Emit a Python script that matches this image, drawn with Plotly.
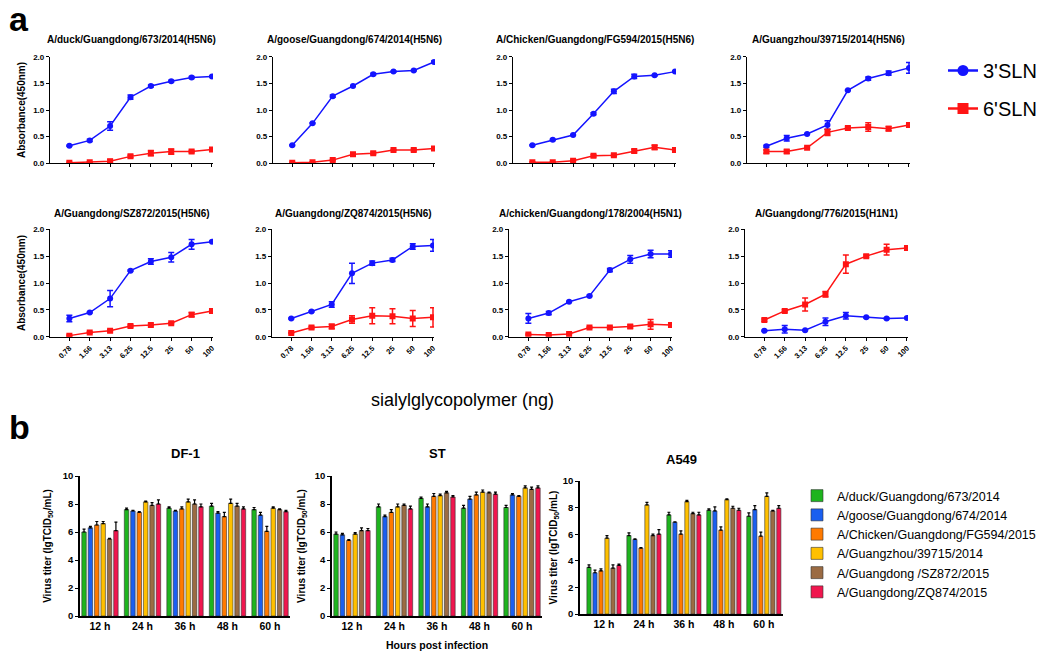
import plotly.graph_objects as go

W, H = 1048, 652
FONT = "Arial, Liberation Sans, sans-serif"

# ---------------- Panel a data ----------------
conc_labels = ["0.78", "1.56", "3.13", "6.25", "12.5", "25", "50", "100"]
strains_a = [
    "A/duck/Guangdong/673/2014(H5N6)",
    "A/goose/Guangdong/674/2014(H5N6)",
    "A/Chicken/Guangdong/FG594/2015(H5N6)",
    "A/Guangzhou/39715/2014(H5N6)",
    "A/Guangdong/SZ872/2015(H5N6)",
    "A/Guangdong/ZQ874/2015(H5N6)",
    "A/chicken/Guangdong/178/2004(H5N1)",
    "A/Guangdong/776/2015(H1N1)",
]
sln3_mean = [
    [0.33, 0.43, 0.70, 1.24, 1.45, 1.54, 1.61, 1.63],
    [0.34, 0.75, 1.26, 1.45, 1.67, 1.72, 1.74, 1.90],
    [0.34, 0.44, 0.53, 0.93, 1.35, 1.63, 1.65, 1.72],
    [0.32, 0.47, 0.55, 0.72, 1.37, 1.59, 1.69, 1.79],
    [0.34, 0.45, 0.71, 1.23, 1.40, 1.48, 1.72, 1.77],
    [0.34, 0.47, 0.60, 1.18, 1.37, 1.43, 1.68, 1.70],
    [0.34, 0.44, 0.65, 0.76, 1.24, 1.44, 1.54, 1.54],
    [0.11, 0.14, 0.12, 0.28, 0.39, 0.36, 0.34, 0.35],
]
sln3_err = [
    [0.01, 0.02, 0.08, 0.04, 0.02, 0.02, 0.02, 0.01],
    [0.01, 0.01, 0.02, 0.01, 0.02, 0.01, 0.01, 0.02],
    [0.01, 0.01, 0.01, 0.02, 0.04, 0.04, 0.01, 0.01],
    [0.02, 0.05, 0.01, 0.08, 0.01, 0.03, 0.04, 0.10],
    [0.06, 0.01, 0.15, 0.01, 0.05, 0.09, 0.09, 0.01],
    [0.01, 0.01, 0.05, 0.19, 0.04, 0.03, 0.05, 0.11],
    [0.09, 0.03, 0.01, 0.01, 0.03, 0.07, 0.07, 0.06],
    [0.01, 0.07, 0.01, 0.07, 0.06, 0.01, 0.01, 0.01],
]
sln6_mean = [
    [0.01, 0.02, 0.04, 0.13, 0.19, 0.22, 0.22, 0.26],
    [0.01, 0.02, 0.06, 0.17, 0.19, 0.25, 0.25, 0.28],
    [0.02, 0.02, 0.05, 0.14, 0.15, 0.23, 0.30, 0.25],
    [0.22, 0.22, 0.29, 0.58, 0.66, 0.68, 0.65, 0.72],
    [0.02, 0.08, 0.11, 0.20, 0.22, 0.25, 0.41, 0.48],
    [0.07, 0.17, 0.19, 0.32, 0.39, 0.38, 0.34, 0.36],
    [0.04, 0.03, 0.05, 0.17, 0.17, 0.19, 0.23, 0.22],
    [0.31, 0.48, 0.60, 0.79, 1.35, 1.50, 1.62, 1.65],
]
sln6_err = [
    [0.01, 0.01, 0.03, 0.02, 0.05, 0.05, 0.02, 0.02],
    [0.01, 0.01, 0.01, 0.02, 0.02, 0.01, 0.02, 0.02],
    [0.01, 0.01, 0.01, 0.02, 0.02, 0.03, 0.04, 0.02],
    [0.03, 0.03, 0.01, 0.06, 0.02, 0.08, 0.04, 0.04],
    [0.01, 0.01, 0.02, 0.02, 0.01, 0.01, 0.04, 0.01],
    [0.01, 0.02, 0.04, 0.07, 0.15, 0.14, 0.15, 0.18],
    [0.01, 0.01, 0.01, 0.01, 0.01, 0.03, 0.09, 0.01],
    [0.02, 0.02, 0.12, 0.05, 0.17, 0.02, 0.10, 0.03],
]
abs_ticks = [0.0, 0.5, 1.0, 1.5, 2.0]

# ---------------- Panel b data ----------------
hours = ["12 h", "24 h", "36 h", "48 h", "60 h"]
cells = ["DF-1", "ST", "A549"]
viruses = [
    "A/duck/Guangdong/673/2014",
    "A/goose/Guangdong/674/2014",
    "A/Chicken/Guangdong/FG594/2015",
    "A/Guangzhou/39715/2014",
    "A/Guangdong /SZ872/2015",
    "A/Guangdong/ZQ874/2015",
]
df1_titer = [
    [6.00, 7.60, 7.70, 7.85, 7.60],
    [6.30, 7.50, 7.50, 7.35, 7.20],
    [6.50, 7.40, 7.65, 7.10, 6.05],
    [6.60, 8.15, 8.15, 8.05, 7.70],
    [5.50, 7.90, 8.00, 7.85, 7.60],
    [6.10, 8.00, 7.80, 7.65, 7.45],
]
df1_err = [
    [0.20, 0.10, 0.10, 0.20, 0.15],
    [0.10, 0.05, 0.05, 0.10, 0.20],
    [0.25, 0.05, 0.15, 0.30, 0.35],
    [0.15, 0.05, 0.20, 0.30, 0.10],
    [0.05, 0.20, 0.30, 0.20, 0.05],
    [0.60, 0.30, 0.20, 0.15, 0.10],
]
st_titer = [
    [5.85, 7.80, 8.40, 7.70, 7.75],
    [5.80, 7.10, 7.80, 8.35, 8.65],
    [5.40, 7.40, 8.55, 8.65, 8.55],
    [5.85, 7.80, 8.60, 8.85, 9.15],
    [6.10, 7.90, 8.80, 8.80, 9.05],
    [6.10, 7.65, 8.50, 8.70, 9.15],
]
st_err = [
    [0.15, 0.20, 0.10, 0.20, 0.15],
    [0.10, 0.10, 0.20, 0.20, 0.10],
    [0.05, 0.20, 0.20, 0.20, 0.05],
    [0.10, 0.20, 0.10, 0.15, 0.15],
    [0.20, 0.10, 0.10, 0.05, 0.15],
    [0.15, 0.20, 0.10, 0.15, 0.15],
]
a549_titer = [
    [3.50, 5.90, 7.45, 7.80, 7.35],
    [3.10, 5.60, 6.90, 7.75, 7.85],
    [3.25, 4.95, 6.00, 6.30, 5.85],
    [5.70, 8.20, 8.45, 8.60, 8.85],
    [3.45, 5.90, 7.55, 7.95, 7.75],
    [3.65, 6.00, 7.45, 7.80, 7.95],
]
a549_err = [
    [0.20, 0.20, 0.20, 0.10, 0.25],
    [0.20, 0.05, 0.02, 0.30, 0.30],
    [0.15, 0.05, 0.25, 0.25, 0.30],
    [0.20, 0.20, 0.10, 0.05, 0.25],
    [0.25, 0.10, 0.10, 0.15, 0.05],
    [0.10, 0.35, 0.20, 0.15, 0.20],
]
titer_ticks = [0, 2, 4, 6, 8, 10]

# ---------------- styles / layout positions (pixels) ----------------
C3, C6 = "#1414FF", "#FF1414"
bar_colors = ["#1EB41E", "#1A5FF0", "#FF7A00", "#FFC000", "#9B6B43", "#F0164E"]

a_xdom = [(50, 213), (273, 435), (513, 676), (747, 910),
          (50, 213), (272, 434), (509, 672), (745, 908)]
a_ydom = [(163.3, 56.7)] * 4 + [(336.7, 229.3)] * 4
b_xdom = [(80, 290), (332, 542), (580, 783)]
b_ydom = [(616, 476), (616, 476), (614, 481)]
b_xrange = [(-0.47, 4.47), (-0.47, 4.47), (-0.6, 4.48)]
b_title_standoff = [9, 7, 3]


def xd(a, b):
    return [a / W, b / W]


def yd(bottom, top):
    return [1 - bottom / H, 1 - top / H]


def label(text, px, py, size, **kw):
    return dict(text=text, x=px / W, y=1 - py / H, xref="paper", yref="paper",
                xanchor="center", yanchor="middle", showarrow=False,
                font=dict(size=size, family=FONT, color="black"), **kw)


fig = go.Figure()
layout = dict(
    template="none",
    width=W, height=H, margin=dict(l=0, r=0, t=0, b=0, pad=0, autoexpand=False),
    paper_bgcolor="white", plot_bgcolor="white",
    font=dict(family=FONT, color="black"),
    barmode="group", bargap=0.1, bargroupgap=0.3,
)
annotations = []

# Panel a
for i in range(8):
    n = i + 1
    xa = "x" if n == 1 else f"x{n}"
    ya = "y" if n == 1 else f"y{n}"
    fig.add_trace(go.Scatter(
        x=conc_labels, y=sln3_mean[i], mode="lines+markers", xaxis=xa, yaxis=ya,
        line=dict(color=C3, width=1.5), marker=dict(symbol="circle", size=6, color=C3),
        error_y=dict(type="data", array=sln3_err[i], color=C3, thickness=1.5, width=3),
        showlegend=False, name="3'SLN"))
    fig.add_trace(go.Scatter(
        x=conc_labels, y=sln6_mean[i], mode="lines+markers", xaxis=xa, yaxis=ya,
        line=dict(color=C6, width=1.5), marker=dict(symbol="square", size=6, color=C6),
        error_y=dict(type="data", array=sln6_err[i], color=C6, thickness=1.5, width=3),
        showlegend=False, name="6'SLN"))
    row2 = i >= 4
    layout["xaxis" if n == 1 else f"xaxis{n}"] = dict(
        domain=xd(*a_xdom[i]), anchor=ya, type="category", automargin=False,
        range=[-0.95, 7.05], showline=True, linecolor="black", linewidth=1.3,
        ticks="outside", ticklen=3, tickwidth=1.2, tickcolor="black",
        showgrid=False, zeroline=False, showticklabels=row2, tickangle=-45,
        tickfont=dict(size=7.5, weight="bold", family=FONT))
    yax = dict(
        domain=yd(*a_ydom[i]), anchor=xa, range=[0, 2], automargin=False,
        tickvals=abs_ticks, tickformat=".1f",
        showline=True, linecolor="black", linewidth=1.3,
        ticks="outside", ticklen=3, tickwidth=1.2, tickcolor="black",
        showgrid=False, zeroline=False,
        tickfont=dict(size=8, weight="bold", family=FONT))
    if i in (0, 4):
        yax["title"] = dict(text="<b>Absorbance(450nm)</b>",
                            font=dict(size=10, family=FONT), standoff=5)
    layout["yaxis" if n == 1 else f"yaxis{n}"] = yax
    cx = (a_xdom[i][0] + a_xdom[i][1]) / 2
    annotations.append(label(f"<b>{strains_a[i]}</b>", cx, 213 if row2 else 40, 10))

# legend entries for panel a
fig.add_trace(go.Scatter(
    x=[None], y=[None], mode="lines+markers", xaxis="x", yaxis="y", name="3'SLN",
    line=dict(color=C3, width=2.5), marker=dict(symbol="circle", size=11, color=C3),
    legend="legend", legendgroup="g3"))
fig.add_trace(go.Scatter(
    x=[None], y=[None], mode="lines+markers", xaxis="x", yaxis="y", name="6'SLN",
    line=dict(color=C6, width=2.5), marker=dict(symbol="square", size=11, color=C6),
    legend="legend", legendgroup="g6"))

# Panel b
titers = [df1_titer, st_titer, a549_titer]
errs = [df1_err, st_err, a549_err]
for c in range(3):
    n = 9 + c
    xa, ya = f"x{n}", f"y{n}"
    for v in range(6):
        fig.add_trace(go.Bar(
            x=hours, y=titers[c][v], xaxis=xa, yaxis=ya, name=viruses[v],
            marker=dict(color=bar_colors[v], line=dict(color="#333333", width=0.6)),
            error_y=dict(type="data", array=errs[c][v], symmetric=False,
                         arrayminus=[0] * len(hours), color="black", thickness=1.2, width=1.5),
            showlegend=(c == 0), legend="legend2", offsetgroup=str(v)))
    layout[f"xaxis{n}"] = dict(
        domain=xd(*b_xdom[c]), anchor=ya, type="category", range=list(b_xrange[c]),
        automargin=False,
        showline=True, linecolor="black", linewidth=1.5, ticks="",
        showgrid=False, zeroline=False,
        tickfont=dict(size=10.5, weight="bold", family=FONT))
    layout[f"yaxis{n}"] = dict(
        domain=yd(*b_ydom[c]), anchor=xa, range=[0, 10], tickvals=titer_ticks,
        automargin=False,
        title=dict(text="<b>Virus titer (lgTCID<sub>50</sub>/mL)</b>",
                   font=dict(size=10, family=FONT), standoff=b_title_standoff[c]),
        showline=True, linecolor="black", linewidth=1.5,
        ticks="outside", ticklen=3, tickwidth=1.3, tickcolor="black",
        showgrid=False, zeroline=False,
        tickfont=dict(size=9.5, weight="bold", family=FONT))
    cx = (b_xdom[c][0] + b_xdom[c][1]) / 2
    annotations.append(label(f"<b>{cells[c]}</b>", cx, 453 if c < 2 else 459, 13))

annotations.append(label("sialylglycopolymer (ng)", 462, 400, 18))
annotations.append(label("<b>Hours post infection</b>", 437, 645, 10.5))
annotations.append(label("<b>a</b>", 19, 19, 34))
annotations.append(label("<b>b</b>", 19, 427, 34))

layout["annotations"] = annotations
layout["legend"] = dict(
    x=943 / W, y=1 - 51 / H, xanchor="left", yanchor="top",
    font=dict(size=20, family=FONT), traceorder="grouped", tracegroupgap=9,
    bgcolor="rgba(0,0,0,0)")
layout["legend2"] = dict(
    x=797 / W, y=1 - 481 / H, xanchor="left", yanchor="top",
    font=dict(size=12.5, family=FONT), bgcolor="rgba(0,0,0,0)")

fig.update_layout(**layout)
fig.write_html(
    "out.html",
    config={"displayModeBar": False},
    post_script="document.body.style.margin='0';document.body.style.overflow='hidden';",
)
